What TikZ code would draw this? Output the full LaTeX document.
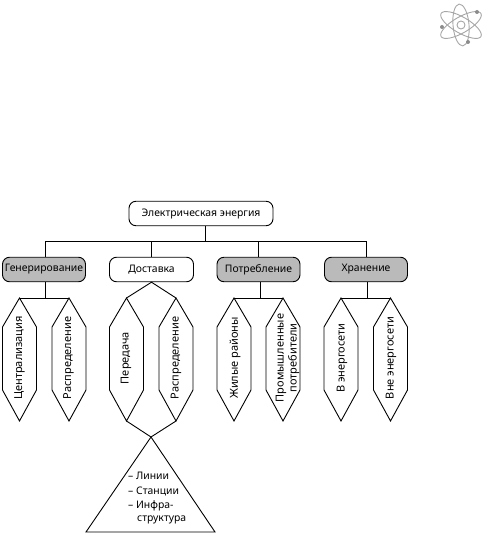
\documentclass[tikz,border=0pt]{standalone}
\usepackage{fontspec}
\setmainfont{Noto Sans}
\tikzset{
  lineb/.style={draw=black,line width=0.9pt},
  box/.style={lineb,rounded corners=7pt,minimum height=24.5pt,inner sep=0pt,anchor=center,font=\fontsize{10.4}{13}\selectfont},
  graybox/.style={box,fill=black!27},
  whitebox/.style={box,fill=white},
  hextext/.style={rotate=90,align=center,inner sep=0pt,font=\fontsize{11}{13}\selectfont},
  orbit/.style={draw=black!35,line width=0.9pt},
  tritext/.style={anchor=west,inner sep=0pt,font=\fontsize{10.4}{13}\selectfont}
}
% #1 name, #2 apex x, #3 half width, #4 label x, #5 label
\newcommand{\hexshape}[5]{%
  \coordinate (#1t) at (#2,298);
  \coordinate (#1b) at (#2,421);
  \draw[lineb,line join=miter] (#1t) -- (#2+#3,327) -- (#2+#3,390) -- (#1b) -- (#2-#3,390) -- (#2-#3,327) -- cycle;
  \node[hextext] (#1) at (#4,358) {#5};
}
\begin{document}
\begin{tikzpicture}[x=1pt,y=-1pt]
\useasboundingbox (0,0) rectangle (486,534);
% atom emblem
\begin{scope}[shift={(461,25)}]
  \draw[orbit,rotate=30] (0,0) ellipse (23pt and 8pt);
  \draw[orbit,rotate=-30] (0,0) ellipse (23pt and 8pt);
  \draw[orbit,rotate=95] (0,0) ellipse (21pt and 8pt);
  \draw[orbit] (0,0) circle (4pt);
  \fill[black!45] (-19,2) circle (2pt) (16,-13) circle (2pt) (7,17) circle (2pt);
\end{scope}
% top
\node[whitebox,minimum width=144pt] (root) at (201,213.5) {Электрическая энергия};
\node[graybox,minimum width=83pt] (gen) at (44,269.5) {Генерирование};
\node[whitebox,minimum width=84pt] (del) at (151.5,269.5) {Доставка};
\node[graybox,minimum width=83pt] (con) at (258.5,269.5) {Потребление};
\node[graybox,minimum width=83pt] (sto) at (366,269.5) {Хранение};
\coordinate (j0) at (205.5,241);
\coordinate (bl) at (45.5,241);
\coordinate (br) at (366.5,241);
\coordinate (bd) at (151.5,241);
\coordinate (bc) at (258.5,241);
\draw[lineb] (j0 |- root.south) -- (j0);
\draw[lineb] (bl |- gen.north) -- (bl) -- (br) -- (br |- sto.north);
\draw[lineb] (bd) -- (bd |- del.north);
\draw[lineb] (bc) -- (bc |- con.north);
% hexagons
\hexshape{h1}{19.5}{17}{19.5}{Централизация}
\hexshape{h2}{69}{17}{68.5}{Распределение}
\hexshape{h3}{126.5}{17}{126}{Передача}
\hexshape{h4}{176}{17}{176}{Распределение}
\hexshape{h5}{234}{17}{235}{Жилые районы}
\hexshape{h6}{283}{17}{287.5}{Промышленные\\потребители}
\hexshape{h7}{341}{17}{342}{В энергосети}
\hexshape{h8}{390.5}{17}{391}{Вне энергосети}
% branch connectors
\coordinate (s1) at (45.5,298);
\coordinate (s3) at (260,298);
\coordinate (s4) at (367.5,298);
\draw[lineb] (s1 |- gen.south) -- (s1);
\draw[lineb] (h1t) -- (h2t);
\draw[lineb] (s3 |- con.south) -- (s3);
\draw[lineb] (h5t) -- (h6t);
\draw[lineb] (s4 |- sto.south) -- (s4);
\draw[lineb] (h7t) -- (h8t);
\draw[lineb] (h3t) -- (del.south) -- (h4t);
% triangle
\coordinate (ta) at (151,437);
\coordinate (tl) at (86,532);
\coordinate (tr) at (215,532);
\draw[lineb] (h3b) -- (ta) -- (h4b);
\draw[lineb] (ta) -- (tr) -- (tl) -- cycle;
\node[tritext] (t1) at (128,476) {– Линии};
\node[tritext] (t2) at (128,491) {– Станции};
\node[tritext] (t3) at (128,506) {– Инфра-};
\node[tritext] (t4) at (137,520) {структура};
\end{tikzpicture}
\end{document}
